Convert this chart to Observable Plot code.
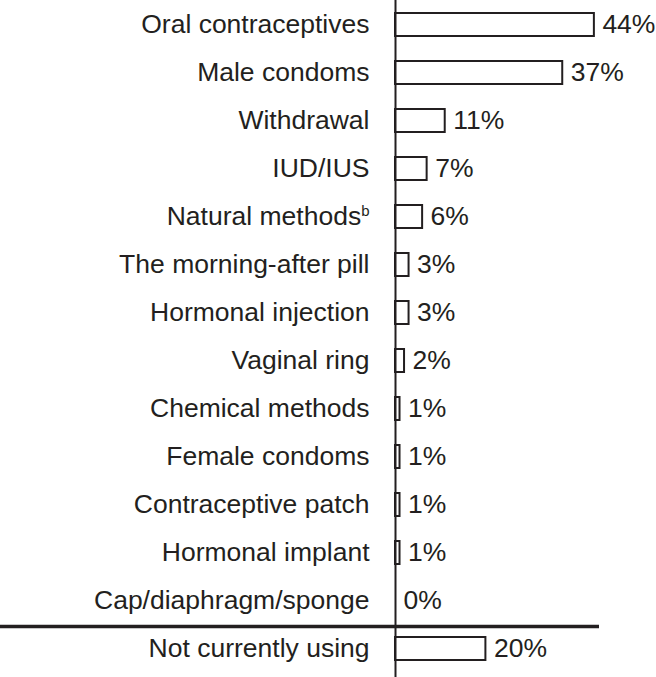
<!DOCTYPE html>
<html><head><meta charset="utf-8">
<script src="https://cdn.jsdelivr.net/npm/d3@7"></script>
<script src="https://cdn.jsdelivr.net/npm/@observablehq/plot@0.6"></script>
<style>body{margin:0;background:#fff}</style>
</head><body><div id="chart"></div>
<script>
const methods = [
  "Oral contraceptives", "Male condoms", "Withdrawal", "IUD/IUS", "Natural methods",
  "The morning-after pill", "Hormonal injection", "Vaginal ring", "Chemical methods",
  "Female condoms", "Contraceptive patch", "Hormonal implant", "Cap/diaphragm/sponge",
  "Not currently using"
];
const percents = [44, 37, 11, 7, 6, 3, 3, 2, 1, 1, 1, 1, 0, 20];
const footnotes = ["", "", "", "", "b", "", "", "", "", "", "", "", "", ""];
const separatorBefore = ["Not currently using"];

const data = methods.map((m, i) => ({method: m, pct: percents[i]}));
const W = 656, H = 677, ML = 395, pxPerPct = 4.52;
const ink = "#231f20";
const fs = 26.5;

const chart = Plot.plot({
  width: W, height: H,
  marginLeft: ML, marginRight: 0, marginTop: 0, marginBottom: 0,
  style: {fontFamily: "'Liberation Sans', Arial, Helvetica, sans-serif", fontSize: fs + "px", color: ink, background: "#fff"},
  x: {domain: [0, (W - ML) / pxPerPct], axis: null},
  y: {domain: methods, range: [0.5, 672.5], paddingInner: 0.53, paddingOuter: 0.265, axis: null},
  marks: [
    Plot.barX(data, {y: "method", x: "pct", fill: "white", stroke: ink, strokeWidth: 2}),
    Plot.ruleX([0], {stroke: ink, strokeWidth: 2}),
    Plot.ruleY(separatorBefore, {y: d => d, dy: -22.5, stroke: ink, strokeWidth: 3.5, insetLeft: -ML, insetRight: 57}),
    Plot.text(data, {y: "method", x: "pct", text: d => d.pct + "%", textAnchor: "start", dx: 8, fontSize: fs, fill: ink}),
    Plot.axisY({tickSize: 0, tickPadding: 26, label: null, fontSize: fs, fill: ink})
  ]
});
document.getElementById("chart").appendChild(chart);

// superscript footnote markers
methods.forEach((m, i) => {
  if (!footnotes[i]) return;
  chart.querySelectorAll("text").forEach(t => {
    if (t.textContent === m) {
      const ts = document.createElementNS("http://www.w3.org/2000/svg", "tspan");
      ts.setAttribute("font-size", "15");
      ts.setAttribute("dy", "-9");
      ts.textContent = footnotes[i];
      t.appendChild(ts);
    }
  });
});
</script>
</body></html>
